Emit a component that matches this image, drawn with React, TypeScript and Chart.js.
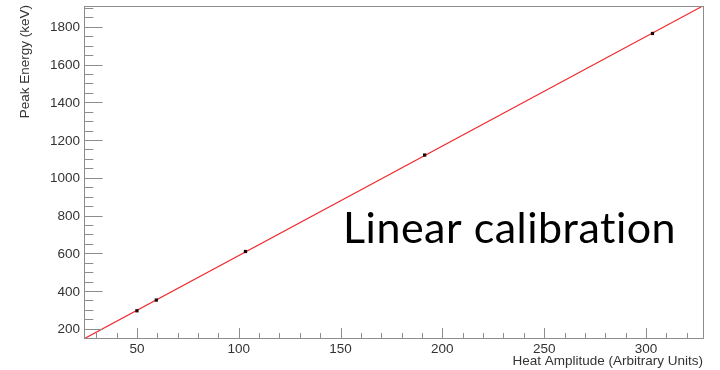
import React, { useEffect, useRef } from "react";
import { Chart, registerables } from "chart.js";

Chart.register(...registerables);

// ---- data ----
const HEAT_AMPLITUDE = [50.0, 59.5, 103.3, 191.3, 303.2];
const PEAK_ENERGY_KEV = [295.2, 351.9, 609.3, 1120.3, 1764.5];

const X_MIN = 24;
const X_MAX = 328;
const Y_MIN = 151;
const Y_MAX = 1910;

const X_TICK_LABELS = [50, 100, 150, 200, 250, 300];
const Y_TICK_LABELS = [200, 400, 600, 800, 1000, 1200, 1400, 1600, 1800];
const X_MINOR_STEP = 10;
const Y_MINOR_STEP = 50;

const X_TITLE = "Heat Amplitude (Arbitrary Units)";
const Y_TITLE = "Peak Energy (keV)";
const ANNOTATION = "Linear calibration";

function linearFit(xs: number[], ys: number[]) {
  const n = xs.length;
  const mx = xs.reduce((a, b) => a + b, 0) / n;
  const my = ys.reduce((a, b) => a + b, 0) / n;
  let sxy = 0;
  let sxx = 0;
  for (let i = 0; i < n; i++) {
    sxy += (xs[i] - mx) * (ys[i] - my);
    sxx += (xs[i] - mx) * (xs[i] - mx);
  }
  const slope = sxy / sxx;
  return { slope, intercept: my - slope * mx };
}

const FRAME_COLOR = "#8c8c8c";
const TEXT_COLOR = "#333333";
const AXIS_FONT = '13.5px "Liberation Sans", Arial, sans-serif';

const rootStylePlugin = {
  id: "rootStyle",
  afterDraw(chart: any) {
    const { ctx, chartArea } = chart;
    const xs = chart.scales.x;
    const ys = chart.scales.y;
    const { left, right, top, bottom } = chartArea;
    const w = right - left;
    const h = bottom - top;
    ctx.save();
    // frame
    ctx.strokeStyle = FRAME_COLOR;
    ctx.lineWidth = 1;
    ctx.strokeRect(Math.round(left) + 0.5, Math.round(top) + 0.5, Math.round(w), Math.round(h));

    // x ticks (inward)
    const xMajorLen = h * 0.03;
    const xMinorLen = xMajorLen / 2;
    ctx.beginPath();
    const xStart = Math.ceil(X_MIN / X_MINOR_STEP) * X_MINOR_STEP;
    for (let v = xStart; v <= X_MAX; v += X_MINOR_STEP) {
      const px = Math.round(xs.getPixelForValue(v)) + 0.5;
      const isMajor = X_TICK_LABELS.includes(v);
      ctx.moveTo(px, bottom);
      ctx.lineTo(px, bottom - (isMajor ? xMajorLen : xMinorLen));
    }
    // y ticks (inward)
    const yMajorLen = w * 0.03;
    const yMinorLen = yMajorLen / 2;
    const yStart = Math.ceil(Y_MIN / Y_MINOR_STEP) * Y_MINOR_STEP;
    for (let v = yStart; v <= Y_MAX; v += Y_MINOR_STEP) {
      const py = Math.round(ys.getPixelForValue(v)) + 0.5;
      const isMajor = Y_TICK_LABELS.includes(v);
      ctx.moveTo(left, py);
      ctx.lineTo(left + (isMajor ? yMajorLen : yMinorLen), py);
    }
    ctx.stroke();

    // tick labels
    ctx.fillStyle = TEXT_COLOR;
    ctx.font = AXIS_FONT;
    ctx.textAlign = "center";
    ctx.textBaseline = "middle";
    for (const v of X_TICK_LABELS) {
      ctx.fillText(String(v), xs.getPixelForValue(v), bottom + 11);
    }
    ctx.textAlign = "right";
    for (const v of Y_TICK_LABELS) {
      ctx.fillText(String(v), left - 4, ys.getPixelForValue(v) + 1);
    }

    // axis titles
    ctx.textAlign = "right";
    ctx.textBaseline = "middle";
    ctx.fillText(X_TITLE, right, bottom + 23);
    ctx.save();
    ctx.translate(25, top - 1);
    ctx.rotate(-Math.PI / 2);
    ctx.textAlign = "right";
    ctx.textBaseline = "middle";
    ctx.fillText(Y_TITLE, 0, 0);
    ctx.restore();

    // annotation
    ctx.fillStyle = "#000000";
    ctx.font = '43px Lato, "Open Sans", sans-serif';
    try {
      (ctx as any).letterSpacing = "0.5px";
    } catch (e) {
      /* ignore */
    }
    ctx.textAlign = "left";
    ctx.textBaseline = "alphabetic";
    ctx.fillText(ANNOTATION, 343, 243);
    ctx.restore();
  },
};

export default function App() {
  const canvasRef = useRef<HTMLCanvasElement | null>(null);

  useEffect(() => {
    document.body.style.margin = "0";
    const canvas = canvasRef.current;
    if (!canvas) return;
    const fit = linearFit(HEAT_AMPLITUDE, PEAK_ENERGY_KEV);
    const points = HEAT_AMPLITUDE.map((x, i) => ({ x, y: PEAK_ENERGY_KEV[i] }));
    const fitLine = [X_MIN, X_MAX].map((x) => ({ x, y: fit.intercept + fit.slope * x }));

    const chart = new Chart(canvas, {
      type: "scatter",
      data: {
        datasets: [
          {
            label: "data",
            data: points,
            pointStyle: "rect",
            pointRadius: 2.3,
            pointBackgroundColor: "#1a0505",
            pointBorderWidth: 0,
            showLine: false,
          },
          {
            label: "fit",
            data: fitLine,
            showLine: true,
            borderColor: "#f0282d",
            borderWidth: 1.2,
            pointRadius: 0,
            fill: false,
          },
        ],
      },
      options: {
        responsive: false,
        animation: false,
        layout: { padding: { left: 84, top: 6, right: 17, bottom: 32 } },
        plugins: { legend: { display: false }, tooltip: { enabled: false } },
        scales: {
          x: { type: "linear", min: X_MIN, max: X_MAX, display: false },
          y: { type: "linear", min: Y_MIN, max: Y_MAX, display: false },
        },
      },
      plugins: [rootStylePlugin],
    });
    return () => chart.destroy();
  }, []);

  return (
    <div style={{ width: 720, height: 370, background: "#ffffff" }}>
      <canvas ref={canvasRef} width={720} height={370} />
    </div>
  );
}
